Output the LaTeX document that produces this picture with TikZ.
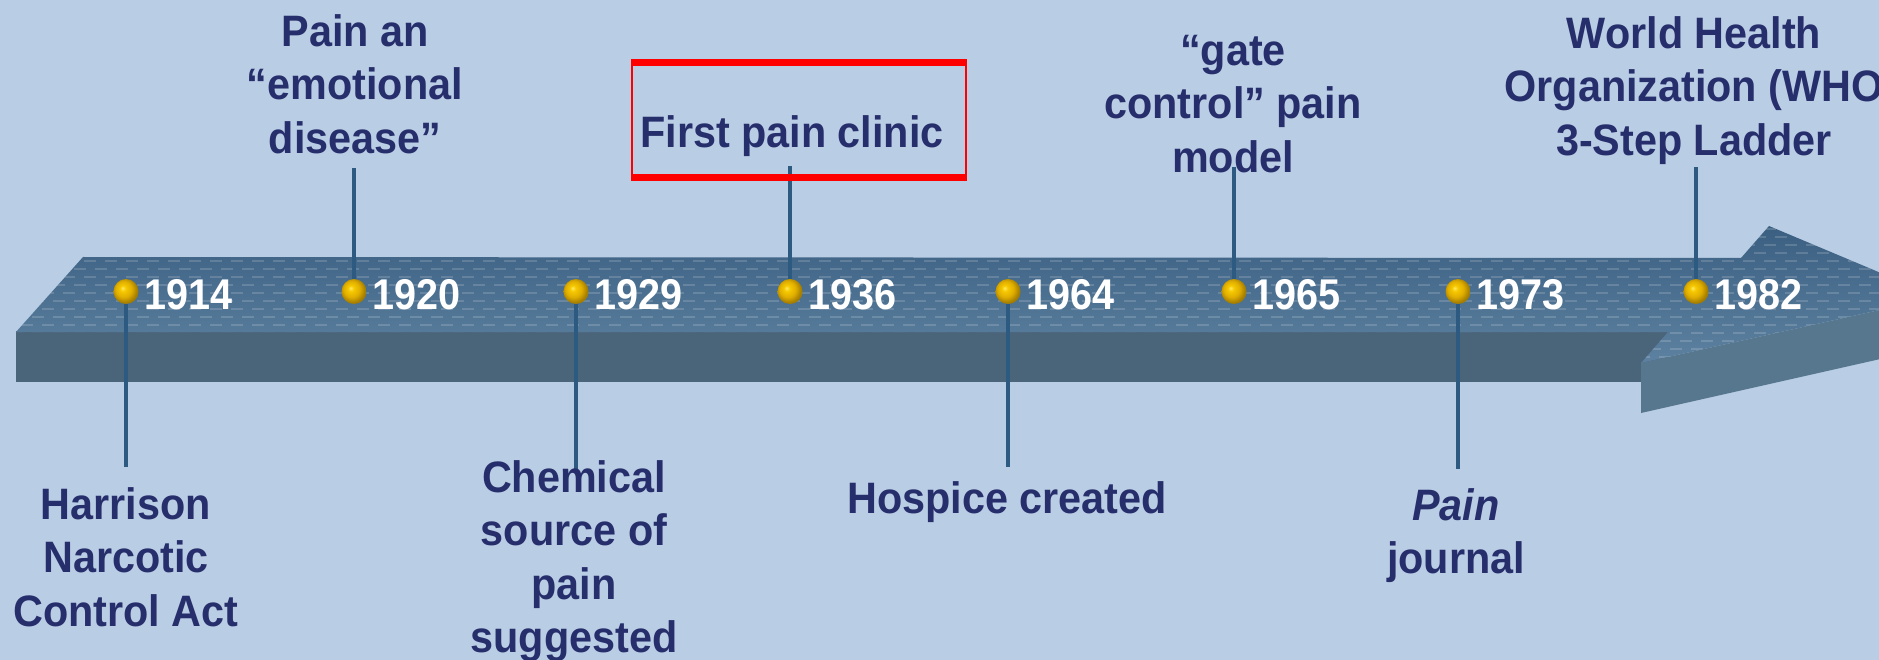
\documentclass[tikz,border=0pt]{standalone}
\usepackage{fontspec}
\newfontfamily\lblfont[FakeStretch=0.94]{Liberation Sans}
\newfontfamily\yrfont[FakeStretch=0.92]{Liberation Sans}
\definecolor{bgblue}{HTML}{B9CDE5}
\definecolor{navy}{HTML}{272E6C}
\definecolor{stem}{HTML}{2D5A80}
\definecolor{frontface}{HTML}{4A6479}
\definecolor{headfront}{HTML}{57778F}
\definecolor{topdark}{HTML}{3B5F81}
\definecolor{toplight}{HTML}{5D81A0}
\definecolor{gA}{HTML}{FFEA60}
\definecolor{gB}{HTML}{F6C800}
\definecolor{gC}{HTML}{E0AE00}
\definecolor{gD}{HTML}{A88000}
\definecolor{gE}{HTML}{6A5000}
\pgfdeclareradialshading{goldball}{\pgfpoint{-7bp}{7bp}}{color(0bp)=(gA); color(6bp)=(gB); color(16bp)=(gC); color(25bp)=(gD); color(50bp)=(gE)}
\tikzset{
  lbl/.style={font=\lblfont\bfseries\fontsize{44}{53.5}\selectfont, text=navy, align=center, inner sep=0pt, anchor=north},
  yr/.style={font=\yrfont\bfseries\fontsize{43}{53.5}\selectfont, text=white, inner sep=0pt, anchor=base west},
  bead/.style={circle, minimum size=25pt, inner sep=0pt, shading=goldball},
  stemline/.style={draw=stem, line width=3.5pt},
  redbox/.style={red, line width=1.5pt},
}
\begin{document}
\begin{tikzpicture}[x=1pt,y=-1pt]
\useasboundingbox (0,0) rectangle (1879,660);
\clip (0,0) rectangle (1879,660);
\fill[bgblue] (0,0) rectangle (1879,660);
% bar front face
\fill[frontface] (16,331) rectangle (1668,382);
% top face (bar + arrow head)
\path[top color=topdark, bottom color=toplight] (16,332) -- (83,257) -- (1741,258) -- (1769,226) -- (1938,297) -- (1641,363) -- (1668,332) -- cycle;
\begin{scope}
  \clip (16,332) -- (83,257) -- (1741,258) -- (1769,226) -- (1938,297) -- (1641,363) -- (1668,332) -- cycle;
  \foreach \r [evaluate=\r as \ph using {mod(\r,2)*10}] in {0,...,17}
    \draw[white, opacity=0.16, line width=1.3pt, dash pattern=on 12pt off 9pt, dash phase=\ph pt] (0,{229+8*\r}) -- (1940,{229+8*\r});
\end{scope}
% arrow head front face
\fill[headfront] (1641,363) -- (1641,413) -- (1938,346) -- (1938,297) -- cycle;

% beads
\node[bead] (b1914) at (126,291.5) {};
\node[bead] (b1920) at (354,291.5) {};
\node[bead] (b1929) at (576,291.5) {};
\node[bead] (b1936) at (790,291.5) {};
\node[bead] (b1964) at (1008,291.5) {};
\node[bead] (b1965) at (1234,291.5) {};
\node[bead] (b1973) at (1458,291.5) {};
\node[bead] (b1982) at (1696,291.5) {};

% stem ends
\coordinate (e1914) at (126,467);
\coordinate (e1920) at (354,168);
\coordinate (e1929) at (576,470);
\coordinate (e1936) at (790,166);
\coordinate (e1964) at (1008,467);
\coordinate (e1965) at (1234,167);
\coordinate (e1973) at (1458,469);
\coordinate (e1982) at (1696,167);

\foreach \y in {1914,1920,1929,1936,1964,1965,1973,1982}
  \draw[stemline] (b\y) -- (e\y);

% years
\node[yr] (y1914) at (144,309.5) {1914};
\node[yr] (y1920) at (372,309.5) {1920};
\node[yr] (y1929) at (594,309.5) {1929};
\node[yr] (y1936) at (808,309.5) {1936};
\node[yr] (y1964) at (1026,309.5) {1964};
\node[yr] (y1965) at (1252,309.5) {1965};
\node[yr] (y1973) at (1476,309.5) {1973};
\node[yr] (y1982) at (1714,309.5) {1982};

% red box
\draw[redbox] (632,60) rectangle (966,180);
\fill[red] (631,59) rectangle (967,66);
\fill[red] (631,174) rectangle (967,181);

% labels
\node[lbl] (l1914) at (126,487) {Harrison\\Narcotic\\Control Act};
\node[lbl] (l1920) at (355,14) {Pain an\\“emotional\\disease”};
\node[lbl] (l1929) at (574,460) {Chemical\\source of\\pain\\suggested};
\node[lbl, anchor=base] (l1936) at (792,148) {First pain clinic};
\node[lbl, anchor=base] (l1964) at (1007,513) {Hospice created};
\node[lbl] (l1965) at (1233,35) {“gate\\control” pain\\model};
\node[lbl] (l1973) at (1456,488) {{\itshape Pain}\\journal};
\node[lbl] (l1982) at (1694,16) {World Health\\Organization (WHO\\3-Step Ladder};
\end{tikzpicture}
\end{document}
